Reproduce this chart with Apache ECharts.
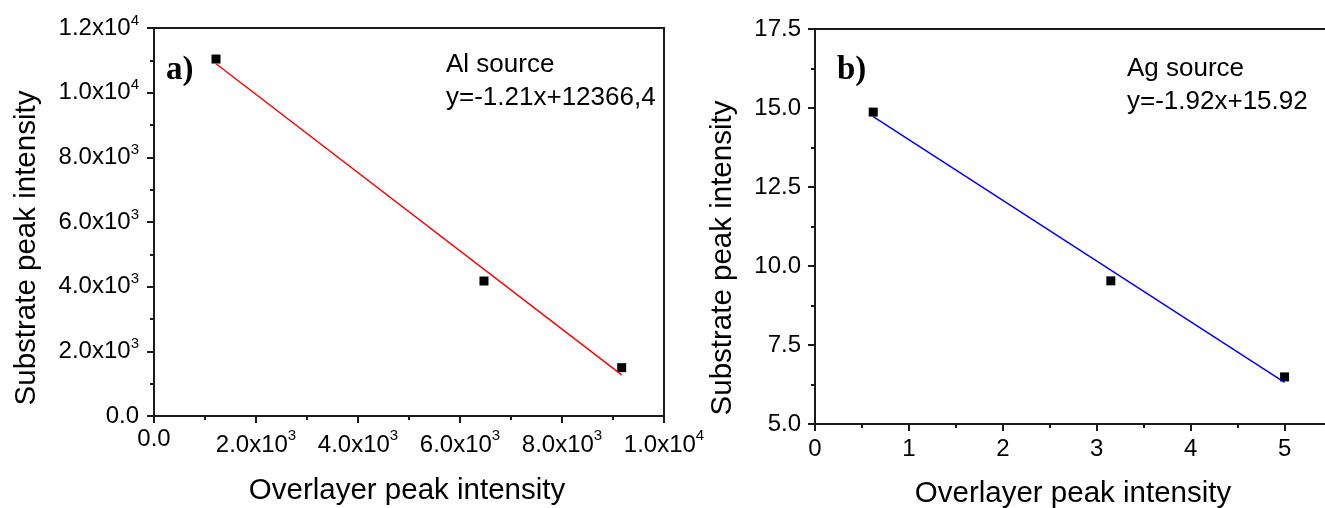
<!DOCTYPE html>
<html>
<head>
<meta charset="utf-8">
<script src="https://cdn.jsdelivr.net/npm/echarts@6/dist/echarts.min.js"></script>
<style>
html,body{margin:0;padding:0;background:#fff;overflow:hidden;}
#chart{width:1325px;height:508px;}
</style>
</head>
<body>
<div id="chart"></div>
<script>
// ---------- data ----------
const aOverlayer = [1216, 6470, 9170];
const aSubstrate = [11040, 4175, 1495];
const aFitX = [1216, 9170];
const aFitY = [10895, 1270];

const bOverlayer = [0.62, 3.15, 5.0];
const bSubstrate = [14.87, 9.53, 6.49];
const bFitX = [0.62, 5.0];
const bFitY = [14.73, 6.32];

// ---------- tick labels ----------
const aXTickLabels = ['0.0', '2.0x10^3', '4.0x10^3', '6.0x10^3', '8.0x10^3', '1.0x10^4'];
const aYTickLabels = ['0.0', '2.0x10^3', '4.0x10^3', '6.0x10^3', '8.0x10^3', '1.0x10^4', '1.2x10^4'];
const bXTickLabels = ['0', '1', '2', '3', '4', '5'];
const bYTickLabels = ['5.0', '7.5', '10.0', '12.5', '15.0', '17.5'];

// ---------- texts ----------
const panelA = 'a)';
const panelB = 'b)';
const noteA = 'Al source\ny=-1.21x+12366,4';
const noteB = 'Ag source\ny=-1.92x+15.92';
const xTitle = 'Overlayer peak intensity';
const yTitle = 'Substrate peak intensity';

const SANS = '"Liberation Sans", Arial, sans-serif';
const SERIF = '"Liberation Serif", "Times New Roman", serif';
const AXC = '#1a1a1a';

function toRich(s) {
  const p = s.split('^');
  return p.length > 1 ? '{m|' + p[0] + '}{sup|' + p[1] + '}' : '{m|' + p[0] + '}';
}
function labeler(labels, min, interval) {
  return function (v) {
    const i = Math.round((v - min) / interval);
    if (Math.abs(min + i * interval - v) > 1e-9 || i < 0 || i >= labels.length) return '';
    return toRich(labels[i]);
  };
}
const richX = {
  m: { fontSize: 24, lineHeight: 26, fontFamily: SANS, color: '#000', verticalAlign: 'bottom' },
  sup: { fontSize: 15, lineHeight: 32, fontFamily: SANS, color: '#000', verticalAlign: 'top', padding: [3, 0, 0, 0] }
};
const richY = {
  m: { fontSize: 24, lineHeight: 30, fontFamily: SANS, color: '#000' },
  sup: { fontSize: 15, lineHeight: 15, fontFamily: SANS, color: '#000', verticalAlign: 'top' }
};

function valueAxis(o) {
  return Object.assign({
    type: 'value',
    splitLine: { show: false },
    axisLine: { show: true, onZero: false, lineStyle: { color: AXC, width: 2 } },
    axisTick: { show: true, inside: false, length: 7, lineStyle: { color: AXC, width: 2 } },
    minorTick: { show: true, splitNumber: 2, length: 4, lineStyle: { color: AXC, width: 2 } },
    minorSplitLine: { show: false }
  }, o);
}
function labelStyle(extra) {
  return Object.assign({ fontSize: 24, fontFamily: SANS, color: '#000' }, extra);
}

const chart = echarts.init(document.getElementById('chart'), null, { renderer: 'canvas' });

const option = {
  backgroundColor: '#fff',
  animation: false,
  grid: [
    { left: 154, top: 28, width: 510, height: 388, show: true, borderColor: AXC, borderWidth: 2, backgroundColor: 'transparent', outerBoundsMode: 'none' },
    { left: 815, top: 29, width: 540, height: 395, show: false, outerBoundsMode: 'none' }
  ],
  xAxis: [
    valueAxis({ gridIndex: 0, position: 'bottom', min: 0, max: 10000, interval: 2000,
      axisLabel: labelStyle({ margin: 9, formatter: labeler(aXTickLabels, 0, 2000), rich: richX }) }),
    valueAxis({ gridIndex: 1, position: 'bottom', min: 0, max: 5.75, interval: 1,
      minorTick: { show: false },
      axisLabel: labelStyle({ margin: 11, formatter: labeler(bXTickLabels, 0, 1), rich: richX }) }),
    // minor ticks for panel b x axis
    valueAxis({ gridIndex: 1, position: 'bottom', min: 0, max: 5.75, interval: 0.5,
      axisLine: { show: false },
      axisTick: { show: true, length: 4, lineStyle: { color: AXC, width: 2 } },
      minorTick: { show: false },
      axisLabel: { show: false } }),
    // top frame line for panel b
    valueAxis({ gridIndex: 1, position: 'top', min: 0, max: 5.75, interval: 1,
      axisTick: { show: false }, minorTick: { show: false }, axisLabel: { show: false } })
  ],
  yAxis: [
    valueAxis({ gridIndex: 0, position: 'left', min: 0, max: 12000, interval: 2000,
      axisLabel: labelStyle({ margin: 15, formatter: labeler(aYTickLabels, 0, 2000), rich: richY }) }),
    valueAxis({ gridIndex: 1, position: 'left', min: 5, max: 17.5, interval: 2.5,
      axisLabel: labelStyle({ margin: 14, formatter: labeler(bYTickLabels, 5, 2.5), rich: richY }) })
  ],
  series: [
    { type: 'line', xAxisIndex: 0, yAxisIndex: 0, symbol: 'none',
      lineStyle: { color: '#ff0000', width: 1.5 },
      data: aFitX.map((x, i) => [x, aFitY[i]]) },
    { type: 'scatter', xAxisIndex: 0, yAxisIndex: 0, symbol: 'rect', symbolSize: 9,
      itemStyle: { color: '#000', opacity: 1 },
      data: aOverlayer.map((x, i) => [x, aSubstrate[i]]) },
    { type: 'line', xAxisIndex: 1, yAxisIndex: 1, symbol: 'none',
      lineStyle: { color: '#0000ff', width: 1.5 },
      data: bFitX.map((x, i) => [x, bFitY[i]]) },
    { type: 'scatter', xAxisIndex: 1, yAxisIndex: 1, symbol: 'rect', symbolSize: 9,
      itemStyle: { color: '#000', opacity: 1 },
      data: bOverlayer.map((x, i) => [x, bSubstrate[i]]) }
  ],
  graphic: [
    { type: 'text', x: 166, y: 70, style: { text: panelA, fontFamily: SERIF, fontWeight: 'bold', fontSize: 33, fill: '#000', textAlign: 'left', textVerticalAlign: 'middle' } },
    { type: 'text', x: 837, y: 70, style: { text: panelB, fontFamily: SERIF, fontWeight: 'bold', fontSize: 33, fill: '#000', textAlign: 'left', textVerticalAlign: 'middle' } },
    { type: 'text', x: 446, y: 48, style: { text: noteA, fontFamily: SANS, fontSize: 26, lineHeight: 33, fill: '#000', textAlign: 'left', textVerticalAlign: 'top' } },
    { type: 'text', x: 1127, y: 52, style: { text: noteB, fontFamily: SANS, fontSize: 26, lineHeight: 33, fill: '#000', textAlign: 'left', textVerticalAlign: 'top' } },
    { type: 'text', x: 407, y: 491, style: { text: xTitle, fontFamily: SANS, fontSize: 29.5, fill: '#000', textAlign: 'center', textVerticalAlign: 'middle' } },
    { type: 'text', x: 1073, y: 494, style: { text: xTitle, fontFamily: SANS, fontSize: 29.5, fill: '#000', textAlign: 'center', textVerticalAlign: 'middle' } },
    { type: 'text', x: 27, y: 248, rotation: Math.PI / 2, style: { text: yTitle, fontFamily: SANS, fontSize: 29.5, fill: '#000', textAlign: 'center', textVerticalAlign: 'middle' } },
    { type: 'text', x: 723, y: 258, rotation: Math.PI / 2, style: { text: yTitle, fontFamily: SANS, fontSize: 29.5, fill: '#000', textAlign: 'center', textVerticalAlign: 'middle' } }
  ]
};
chart.setOption(option);
</script>
</body>
</html>
